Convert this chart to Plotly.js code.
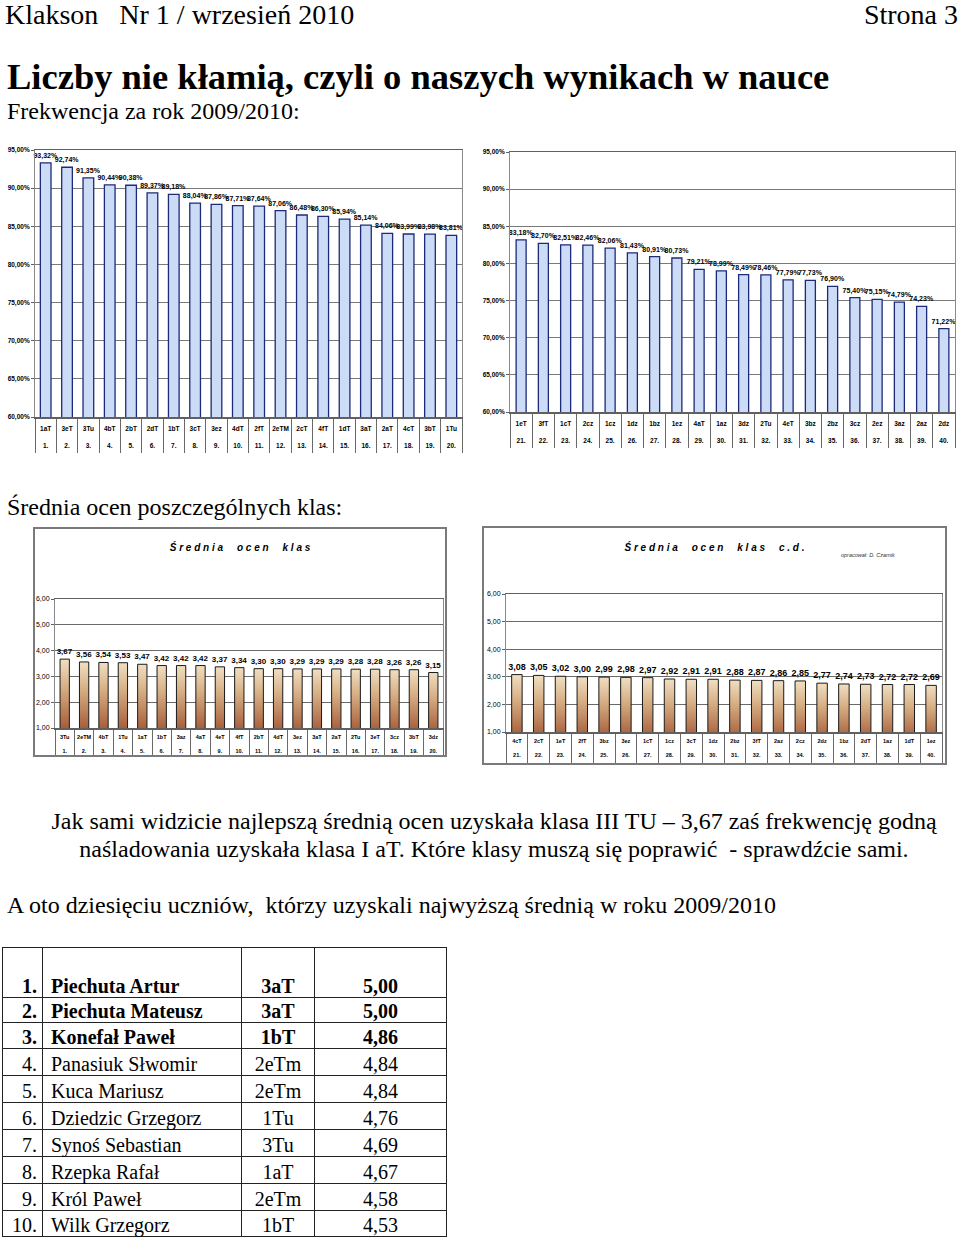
<!DOCTYPE html>
<html>
<head>
<meta charset="utf-8">
<script src="https://cdn.plot.ly/plotly-3.0.1.min.js"></script>
<style>
body { margin:0; width:960px; height:1240px; position:relative; background:#fff; font-family:"Liberation Serif", "Times New Roman", serif; color:#000; overflow:hidden; }
.t { position:absolute; white-space:pre; line-height:1; }
.chart { position:absolute; }
.box { position:absolute; border:2px solid #7a7a7a; box-sizing:border-box; }
#top10 { position:absolute; left:2px; top:947px; border-collapse:collapse; font-size:20px; }
#top10 td { border:1px solid #222; padding:0 0 1px 0; vertical-align:bottom; line-height:1; }
</style>
</head>
<body>

<div class="t" style="left:5px;top:1px;font-size:28px;line-height:28px;">Klakson   Nr 1 / wrzesień 2010</div>
<div class="t" style="right:2px;top:1px;font-size:28px;line-height:28px;">Strona 3</div>
<div class="t" style="left:7px;top:59px;font-size:36.5px;font-weight:bold;">Liczby nie kłamią, czyli o naszych wynikach w nauce</div>
<div class="t" style="left:7px;top:99px;font-size:24px;">Frekwencja za rok 2009/2010:</div>

<div id="freqA" class="chart" style="left:0px;top:140px;width:470px;height:315px;"></div>
<div id="freqB" class="chart" style="left:478px;top:140px;width:482px;height:315px;"></div>

<div class="t" style="left:7px;top:495px;font-size:24px;">Średnia ocen poszczególnych klas:</div>

<div class="box" style="left:33px;top:527px;width:414px;height:230px;"><div id="avgA" style="width:410px;height:226px;"></div></div>
<div class="box" style="left:482px;top:526px;width:465px;height:239px;"><div id="avgB" style="width:461px;height:235px;"></div></div>

<div class="t" style="left:30px;width:928px;text-align:center;top:807px;font-size:24px;line-height:28px;">Jak sami widzicie najlepszą średnią ocen uzyskała klasa III TU – 3,67 zaś frekwencję godną
naśladowania uzyskała klasa I aT. Które klasy muszą się poprawić  - sprawdźcie sami.</div>
<div class="t" style="left:7px;top:893px;font-size:24px;">A oto dziesięciu uczniów,  którzy uzyskali najwyższą średnią w roku 2009/2010</div>

<table id="top10"></table>

<script>
// frekwencja 1-20
var freqRanksA = ['1.','2.','3.','4.','5.','6.','7.','8.','9.','10.','11.','12.','13.','14.','15.','16.','17.','18.','19.','20.'];
var freqClassesA = ['1aT','3eT','3Tu','4bT','2bT','2dT','1bT','3cT','3ez','4dT','2fT','2eTM','2cT','4fT','1dT','3aT','2aT','4cT','3bT','1Tu'];
var freqValuesA = [93.32,92.74,91.35,90.44,90.38,89.37,89.18,88.04,87.86,87.71,87.64,87.06,86.48,86.30,85.94,85.14,84.06,83.99,83.98,83.81];

// frekwencja 21-40
var freqRanksB = ['21.','22.','23.','24.','25.','26.','27.','28.','29.','30.','31.','32.','33.','34.','35.','36.','37.','38.','39.','40.'];
var freqClassesB = ['1eT','3fT','1cT','2cz','1cz','1dz','1bz','1ez','4aT','1az','3dz','2Tu','4eT','3bz','2bz','3cz','2ez','3az','2az','2dz'];
var freqValuesB = [83.18,82.70,82.51,82.46,82.06,81.43,80.91,80.73,79.21,78.99,78.49,78.46,77.79,77.73,76.90,75.40,75.15,74.79,74.23,71.22];

// srednia ocen 1-20
var avgClassesA = ['3Tu','2eTM','4bT','1Tu','1aT','1bT','3az','4aT','4eT','4fT','2bT','4dT','3ez','3aT','2aT','2Tu','3eT','3cz','3bT','3dz'];
var avgValuesA = [3.67,3.56,3.54,3.53,3.47,3.42,3.42,3.42,3.37,3.34,3.30,3.30,3.29,3.29,3.29,3.28,3.28,3.26,3.26,3.15];

// srednia ocen 21-40
var avgClassesB = ['4cT','2cT','1eT','2fT','3bz','3ez','1cT','1cz','3cT','1dz','2bz','3fT','2az','2cz','2dz','1bz','2dT','1az','1dT','1ez'];
var avgValuesB = [3.08,3.05,3.02,3.00,2.99,2.98,2.97,2.92,2.91,2.91,2.88,2.87,2.86,2.85,2.77,2.74,2.73,2.72,2.72,2.69];

var freqTicks = [60,65,70,75,80,85,90,95];
var avgTicks = [1,2,3,4,5,6];

// dziesieciu najlepszych
var topRanks = ['1.','2.','3.','4.','5.','6.','7.','8.','9.','10.'];
var topNames = ['Piechuta Artur','Piechuta Mateusz','Konefał Paweł','Panasiuk Słwomir','Kuca Mariusz','Dziedzic Grzegorz','Synoś Sebastian','Rzepka Rafał','Król Paweł','Wilk Grzegorz'];
var topClasses = ['3aT','3aT','1bT','2eTm','2eTm','1Tu','3Tu','1aT','2eTm','1bT'];
var topAverages = [5.00,5.00,4.86,4.84,4.84,4.76,4.69,4.67,4.58,4.53];

var cfg = {displayModeBar:false, staticPlot:true};
var sans = 'Liberation Sans, Arial, sans-serif';

function comma(v, suffix){
  return v.toFixed(2).replace('.', ',') + (suffix || '');
}

// os kategorii jak tabelka Excela: nazwa klasy, pod nia miejsce, pionowe kreski miedzy komorkami
function tableAxis(classes, ranks, fontSize, cellHeight, standoff){
  return {
    type:'category',
    tickmode:'array',
    tickvals:classes,
    ticktext:classes.map(function(c, i){ return c + '<br><br>' + ranks[i]; }),
    tickangle:0,
    tickson:'boundaries',
    ticks:'outside', ticklen:cellHeight, tickwidth:1, tickcolor:'#6a6a6a',
    ticklabelstandoff:standoff,
    showline:true, mirror:true, linecolor:'#606060', linewidth:1.5,
    tickfont:{family:sans, size:fontSize, weight:'bold'}
  };
}

function freqChart(divId, ranks, classes, values, l, r, t, b, gap){
  var trace = {
    type:'bar',
    x:classes,
    y:values,
    base:0,
    text:values.map(function(v){ return comma(v, '%'); }),
    textposition:'outside',
    textangle:0,
    constraintext:'none',
    cliponaxis:false,
    textfont:{family:sans, size:7, weight:'bold', color:'#000'},
    marker:{color:'#cddcf6', line:{color:'#1c2a78', width:1.3}},
    hoverinfo:'none'
  };
  var layout = {
    margin:{l:l, r:r, t:t, b:b},
    paper_bgcolor:'#fff', plot_bgcolor:'#fff',
    showlegend:false,
    bargap:gap,
    font:{family:sans, size:7, color:'#000'},
    xaxis:tableAxis(classes, ranks, 6.5, 34, 5),
    yaxis:{range:[60,95], tickvals:freqTicks, ticktext:freqTicks.map(function(v){ return comma(v, '%'); }),
      showline:true, mirror:true, linecolor:'#8a8a8a', linewidth:1,
      showgrid:true, gridcolor:'#7a7a7a', gridwidth:1, zeroline:false,
      ticks:'outside', ticklen:3, tickcolor:'#606060',
      tickfont:{family:sans, size:6.5, weight:'bold'}}
  };
  return Plotly.newPlot(divId, [trace], layout, cfg);
}

function avgChart(divId, ranks, classes, values, l, r, t, b, cellHeight, title, labelSize, extra){
  var trace = {
    type:'bar',
    x:classes,
    y:values,
    base:0,
    text:values.map(function(v){ return comma(v); }),
    textposition:'outside',
    textangle:0,
    constraintext:'none',
    cliponaxis:false,
    textfont:{family:sans, size:labelSize, weight:'bold', color:'#000'},
    marker:{color:'#c0906a', line:{color:'#1a1a1a', width:1}},
    hoverinfo:'none'
  };
  var layout = {
    margin:{l:l, r:r, t:t, b:b},
    paper_bgcolor:'#fff', plot_bgcolor:'#fff',
    showlegend:false,
    bargap:0.52,
    font:{family:sans, size:7, color:'#000'},
    title:{text:title, xref:'container', x:0.5, xanchor:'center', yref:'container', y:1 - 19/(t + b + 130), yanchor:'middle',
      font:{family:sans, size:10, weight:'bold', style:'italic', color:'#000'}},
    xaxis:tableAxis(classes, ranks, 5.5, cellHeight, 3),
    yaxis:{range:[1,6], tickvals:avgTicks, ticktext:avgTicks.map(function(v){ return comma(v); }),
      showline:true, mirror:true, linecolor:'#8a8a8a', linewidth:1,
      showgrid:true, gridcolor:'#6a6a6a', gridwidth:1, zeroline:false,
      ticks:'outside', ticklen:3, tickcolor:'#606060',
      tickfont:{family:sans, size:7}},
    annotations:extra || []
  };
  return Plotly.newPlot(divId, [trace], layout, cfg).then(function(gd){
    // cylindryczny, brazowy gradient slupkow
    var ns = 'http://www.w3.org/2000/svg';
    var svg = gd.querySelector('svg.main-svg');
    var defs = svg.querySelector('defs') || svg.insertBefore(document.createElementNS(ns, 'defs'), svg.firstChild);
    var grad = document.createElementNS(ns, 'linearGradient');
    grad.setAttribute('id', divId + 'Grad');
    grad.setAttribute('x1', '0'); grad.setAttribute('y1', '0');
    grad.setAttribute('x2', '0'); grad.setAttribute('y2', '1');
    [['0', '#f0dfc2'], ['0.3', '#d6ae84'], ['0.7', '#a9623e'], ['1', '#7c2210']].forEach(function(s){
      var stop = document.createElementNS(ns, 'stop');
      stop.setAttribute('offset', s[0]);
      stop.setAttribute('stop-color', s[1]);
      grad.appendChild(stop);
    });
    defs.appendChild(grad);
    gd.querySelectorAll('.bars .point path').forEach(function(p){
      p.style.fill = 'url(#' + divId + 'Grad)';
    });
  });
}

freqChart('freqA', freqRanksA, freqClassesA, freqValuesA, 35, 8, 10, 38, 0.5);
freqChart('freqB', freqRanksB, freqClassesB, freqValuesB, 32, 5, 12, 43, 0.55);

avgChart('avgA', freqRanksA, avgClassesA, avgValuesA, 20, 2, 70, 27, 26,
  'Ś r e d n i a     o c e n     k l a s', 8);
avgChart('avgB', freqRanksB, avgClassesB, avgValuesB, 22, 3, 66, 31, 29,
  'Ś r e d n i a     o c e n     k l a s     c . d .', 9,
  [{text:'opracował: D. Czarnik', xref:'paper', yref:'paper', x:0.897, y:1.32, showarrow:false,
    font:{family:sans, size:5.5, style:'italic', color:'#333'}}]);

// tabela
var table = document.getElementById('top10');
var rowHeights = [50,25,26,27,27,27,27,27,27,26];
var colWidths = [40,199,73,132];
for (var i = 0; i < topNames.length; i++) {
  var tr = document.createElement('tr');
  tr.style.height = rowHeights[i] + 'px';
  var cells = [topRanks[i], topNames[i], topClasses[i], comma(topAverages[i])];
  cells.forEach(function(c, j){
    var td = document.createElement('td');
    td.textContent = c;
    td.style.width = colWidths[j] + 'px';
    td.style.height = rowHeights[i] + 'px';
    td.style.boxSizing = 'border-box';
    if (j === 0) { td.style.textAlign = 'right'; td.style.paddingRight = '5px'; }
    if (j === 1) { td.style.textAlign = 'left'; td.style.paddingLeft = '8px'; }
    if (j >= 2) { td.style.textAlign = 'center'; }
    if (i < 3) td.style.fontWeight = 'bold';
    tr.appendChild(td);
  });
  table.appendChild(tr);
}
</script>
</body>
</html>
